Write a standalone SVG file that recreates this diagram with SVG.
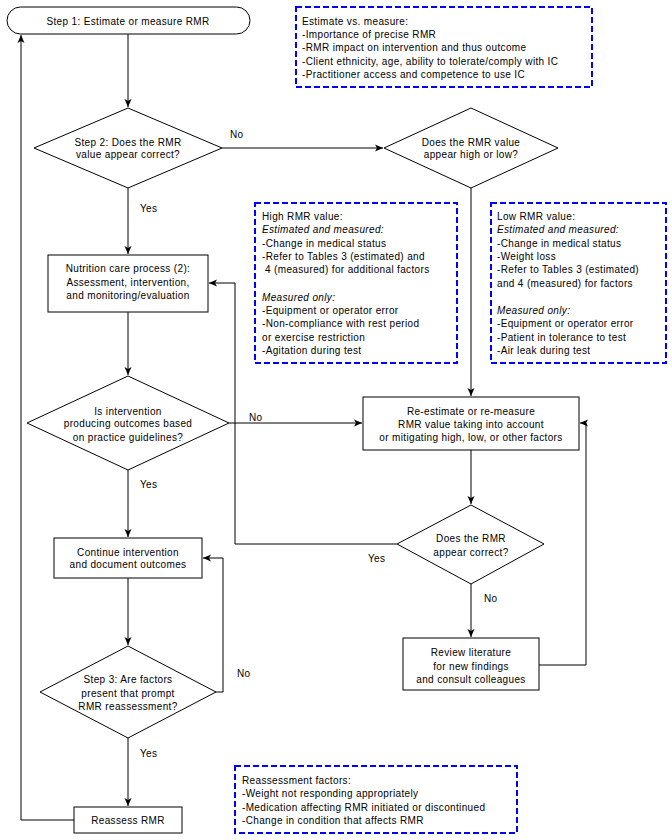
<svg xmlns="http://www.w3.org/2000/svg" width="672" height="840" viewBox="0 0 672 840">
<style>
text{font-family:"Liberation Sans",Arial,sans-serif;font-size:10px;fill:#000;letter-spacing:0.35px}
.c{text-anchor:middle}
.i{font-style:italic}
.n{fill:#fff;stroke:#000;stroke-width:1}
.note{fill:#fff;stroke:#0000ff;stroke-width:2;stroke-dasharray:6,3}
.e{fill:none;stroke:#000;stroke-width:1;marker-end:url(#ah)}
</style>
<defs>
<marker id="ah" markerUnits="userSpaceOnUse" markerWidth="9" markerHeight="8" refX="8" refY="4" orient="auto">
<path d="M0,0.5 L8,4 L0,7.5 L2,4 z" fill="#000"/>
</marker>
</defs>
<rect width="672" height="840" fill="#fff"/>
<g id="connectors">
<path class="e" d="M128,34 V107"/>
<path class="e" d="M222,148 H383"/>
<path class="e" d="M128,188 V254"/>
<path class="e" d="M471,188 V396"/>
<path class="e" d="M128,312 V375"/>
<path class="e" d="M229,423 H362"/>
<path class="e" d="M128,470 V537"/>
<path class="e" d="M471,450 V504"/>
<path class="e" d="M397,544 H235 V283 H209"/>
<path class="e" d="M471,584 V637"/>
<path class="e" d="M539,665 H586 V423 H580"/>
<path class="e" d="M128,578 V645"/>
<path class="e" d="M216,692 H223 V558 H203"/>
<path class="e" d="M128,738 V806"/>
<path class="e" d="M74,820 H21 V35"/>
<text x="230" y="138">No</text>
<text x="140" y="212">Yes</text>
<text x="249" y="421">No</text>
<text x="140" y="488">Yes</text>
<text x="368" y="562">Yes</text>
<text x="484" y="602">No</text>
<text x="237" y="677">No</text>
<text x="140" y="757">Yes</text>
</g>
<g id="step1">
<rect class="n" x="7" y="7" width="243" height="27" rx="13.5"/>
<text class="c" x="128" y="24.5">Step 1: Estimate or measure RMR</text>
</g>
<g id="note-estimate">
<rect class="note" x="296" y="7" width="296" height="80"/>
<text x="302" y="25">Estimate vs. measure:</text>
<text x="302" y="38">-Importance of precise RMR</text>
<text x="302" y="51">-RMR impact on intervention and thus outcome</text>
<text x="302" y="65">-Client ethnicity, age, ability to tolerate/comply with IC</text>
<text x="302" y="78">-Practitioner access and competence to use IC</text>
</g>
<g id="step2">
<polygon class="n" points="128,108 222,148 128,188 34,148"/>
<text class="c" x="128" y="145.5">Step 2: Does the RMR</text>
<text class="c" x="128" y="158">value appear correct?</text>
</g>
<g id="highlow">
<polygon class="n" points="471,108 558,148 471,188 384,148"/>
<text class="c" x="471" y="145.5">Does the RMR value</text>
<text class="c" x="471" y="158">appear high or low?</text>
</g>
<g id="note-high">
<rect class="note" x="255" y="203" width="202" height="160"/>
<text x="262" y="219.5">High RMR value:</text>
<text class="i" x="262" y="232.5">Estimated and measured:</text>
<text x="262" y="246.5">-Change in medical status</text>
<text x="262" y="259.5">-Refer to Tables 3 (estimated) and</text>
<text x="265" y="272.5">4 (measured) for additional factors</text>
<text class="i" x="262" y="300.5">Measured only:</text>
<text x="262" y="313.5">-Equipment or operator error</text>
<text x="262" y="326.5">-Non-compliance with rest period</text>
<text x="262" y="340.5">or exercise restriction</text>
<text x="262" y="353.5">-Agitation during test</text>
</g>
<g id="note-low">
<rect class="note" x="491" y="203" width="175" height="160"/>
<text x="497" y="219.5">Low RMR value:</text>
<text class="i" x="497" y="232.5">Estimated and measured:</text>
<text x="497" y="246.5">-Change in medical status</text>
<text x="497" y="259.5">-Weight loss</text>
<text x="497" y="272.5">-Refer to Tables 3 (estimated)</text>
<text x="497" y="286.5">and 4 (measured) for factors</text>
<text class="i" x="497" y="313.5">Measured only:</text>
<text x="497" y="326.5">-Equipment or operator error</text>
<text x="497" y="340.5">-Patient in tolerance to test</text>
<text x="497" y="353.5">-Air leak during test</text>
</g>
<g id="nutrition">
<rect class="n" x="48" y="255" width="160" height="57"/>
<text class="c" x="128" y="271.5">Nutrition care process (2):</text>
<text class="c" x="128" y="286">Assessment, intervention,</text>
<text class="c" x="128" y="298.5">and monitoring/evaluation</text>
</g>
<g id="intervention">
<polygon class="n" points="128,376 229,423 128,470 27,423"/>
<text class="c" x="128" y="414.5">Is intervention</text>
<text class="c" x="128" y="427">producing outcomes based</text>
<text class="c" x="128" y="440.5">on practice guidelines?</text>
</g>
<g id="reestimate">
<rect class="n" x="363" y="397" width="216" height="53"/>
<text class="c" x="471" y="414.5">Re-estimate or re-measure</text>
<text class="c" x="471" y="427.5">RMR value taking into account</text>
<text class="c" x="471" y="440.5">or mitigating high, low, or other factors</text>
</g>
<g id="correct2">
<polygon class="n" points="471,505 544,544 471,584 397,544"/>
<text class="c" x="471" y="541.5">Does the RMR</text>
<text class="c" x="471" y="555.5">appear correct?</text>
</g>
<g id="continue">
<rect class="n" x="54" y="538" width="148" height="40"/>
<text class="c" x="128" y="555.5">Continue intervention</text>
<text class="c" x="128" y="567.5">and document outcomes</text>
</g>
<g id="review">
<rect class="n" x="403" y="638" width="136" height="52"/>
<text class="c" x="471" y="655.5">Review literature</text>
<text class="c" x="471" y="669.5">for new findings</text>
<text class="c" x="471" y="682.5">and consult colleagues</text>
</g>
<g id="step3">
<polygon class="n" points="128,646 216,692 128,738 40,692"/>
<text class="c" x="128" y="682.5">Step 3: Are factors</text>
<text class="c" x="128" y="696.5">present that prompt</text>
<text class="c" x="128" y="709.5">RMR reassessment?</text>
</g>
<g id="reassess">
<rect class="n" x="74" y="807" width="108" height="26"/>
<text class="c" x="128" y="823.5">Reassess RMR</text>
</g>
<g id="note-reassess">
<rect class="note" x="235" y="766" width="282" height="67"/>
<text x="242" y="783.5">Reassessment factors:</text>
<text x="242" y="796.5">-Weight not responding appropriately</text>
<text x="242" y="810.5">-Medication affecting RMR initiated or discontinued</text>
<text x="242" y="823.5">-Change in condition that affects RMR</text>
</g>
</svg>
